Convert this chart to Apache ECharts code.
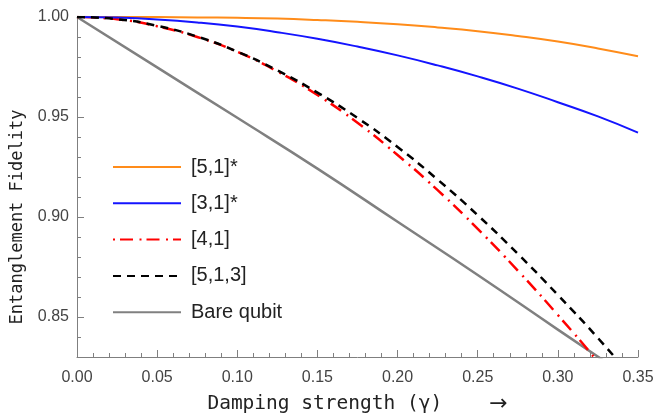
<!DOCTYPE html>
<html>
<head>
<meta charset="utf-8">
<script src="https://cdn.jsdelivr.net/npm/echarts@6/dist/echarts.min.js"></script>
<style>
html,body{margin:0;padding:0;background:#fff;}
#chart{width:658px;height:420px;}
</style>
</head>
<body>
<div id="chart"></div>
<script>
const gammas = [0, 0.025, 0.05, 0.075, 0.1, 0.125, 0.15, 0.175, 0.2, 0.225, 0.25, 0.275, 0.3, 0.325, 0.35];
const code51star = [1.0, 1.0, 0.99995, 0.9998, 0.9996, 0.9992, 0.9985, 0.9976, 0.9964, 0.9948, 0.9929, 0.9905, 0.9877, 0.9843, 0.9804];
const code31star = [1.0, 0.9997, 0.9988, 0.9973, 0.9952, 0.9924, 0.9891, 0.9852, 0.9808, 0.9758, 0.9703, 0.9642, 0.9574, 0.9503, 0.9422];
const code41 = [1.0, 0.9989, 0.9954, 0.9900, 0.9826, 0.9728, 0.9610, 0.9471, 0.9310, 0.9134, 0.8941, 0.8732, 0.8510, 0.8275, 0.8020];
const code513 = [1.0, 0.9989, 0.9956, 0.9902, 0.9827, 0.9733, 0.9622, 0.9495, 0.9350, 0.9187, 0.9009, 0.8816, 0.8610, 0.8395, 0.8163];
const gammasBare = [0, 0.05, 0.1, 0.15, 0.2, 0.25, 0.3, 0.35];
const bareQubit = [1.0, 0.9748, 0.9496, 0.9242, 0.8976, 0.8710, 0.8437, 0.8166];
const seriesNames = ['[5,1]*', '[3,1]*', '[4,1]', '[5,1,3]', 'Bare qubit'];
const yLabelValues = [0.85, 0.90, 0.95, 1.00];
const xTitleMain = 'Damping strength (\u03b3)    ';
const xTitleArrow = '\u2192';
const yTitle = 'Entanglement Fidelity';

function pairs(xs, ys){ return xs.map((x,i)=>[x, ys[i]]); }

const chart = echarts.init(document.getElementById('chart'));
const axisColor = '#7f7f7f';
const labelStyle = {color:'#444', fontSize:16, fontFamily:'Liberation Sans, Arial, sans-serif'};
const monoFont = 'DejaVu Sans Mono, monospace';

chart.setOption({
  animation:false,
  backgroundColor:'#fff',
  grid:{left:77, right:20, top:17, bottom:57, containLabel:false},
  legend:{
    orient:'vertical', left:107, top:151,
    itemWidth:68, itemHeight:14, itemGap:14.3,
    data:seriesNames,
    itemStyle:{opacity:0},
    textStyle:{color:'#222', fontSize:20, lineHeight:22, fontFamily:'Liberation Sans, Arial, sans-serif', padding:[0,0,0,5]}
  },
  graphic:[{
    type:'text', x:18, y:217, rotation:Math.PI/2,
    style:{text:yTitle, font:'17px ' + monoFont, fill:'#222', align:'center', verticalAlign:'middle'}
  }],
  xAxis:{
    type:'value', min:0, max:0.35, interval:0.05,
    name:'{a|' + xTitleMain + '}{b|' + xTitleArrow + '}', nameLocation:'middle', nameGap:36,
    nameTextStyle:{color:'#222', fontSize:19.5, fontFamily:monoFont,
      rich:{a:{fontSize:19.5, fontFamily:monoFont, color:'#222'},
            b:{fontSize:22, fontFamily:'DejaVu Sans, sans-serif', color:'#222'}}},
    axisLine:{show:true, lineStyle:{color:axisColor, width:1}},
    axisTick:{show:true, inside:true, length:7, lineStyle:{color:axisColor}},
    minorTick:{show:true, splitNumber:5, length:4, lineStyle:{color:axisColor}},
    axisLabel:{...labelStyle, margin:13, formatter:v=>v.toFixed(2)},
    splitLine:{show:false}
  },
  yAxis:[{
    type:'value', min:0.83, max:1.0, interval:0.01, position:'left',
    axisLine:{show:true, lineStyle:{color:axisColor, width:1}},
    axisTick:{show:true, inside:true, length:4, lineStyle:{color:axisColor}},
    axisLabel:{...labelStyle, margin:8, customValues:yLabelValues, formatter:v=>v.toFixed(2)},
    splitLine:{show:false}
  },{
    type:'value', min:0.83, max:1.0, position:'left',
    axisLine:{show:false},
    axisTick:{show:true, inside:true, length:7, customValues:yLabelValues, lineStyle:{color:axisColor}},
    axisLabel:{show:false},
    splitLine:{show:false}
  }],
  series:[
    {name:seriesNames[0], type:'line', symbol:'none', smooth:true, data:pairs(gammas, code51star),
     lineStyle:{color:'#ff8c1a', width:2}, itemStyle:{color:'#ff8c1a'}, z:5},
    {name:seriesNames[1], type:'line', symbol:'none', smooth:true, data:pairs(gammas, code31star),
     lineStyle:{color:'#1414ff', width:2}, itemStyle:{color:'#1414ff'}, z:5},
    {name:seriesNames[2], type:'line', symbol:'none', smooth:true, data:pairs(gammas, code41),
     lineStyle:{color:'#ff0000', width:2.5, type:[2,5,13,6.5]}, itemStyle:{color:'#ff0000'}, z:4},
    {name:seriesNames[3], type:'line', symbol:'none', smooth:true, data:pairs(gammas, code513),
     lineStyle:{color:'#000000', width:2.5, type:[8,6]}, itemStyle:{color:'#000000'}, z:6},
    {name:seriesNames[4], type:'line', symbol:'none', smooth:true, data:pairs(gammasBare, bareQubit),
     lineStyle:{color:'#808080', width:2.5}, itemStyle:{color:'#808080'}, z:3}
  ]
});
</script>
</body>
</html>
